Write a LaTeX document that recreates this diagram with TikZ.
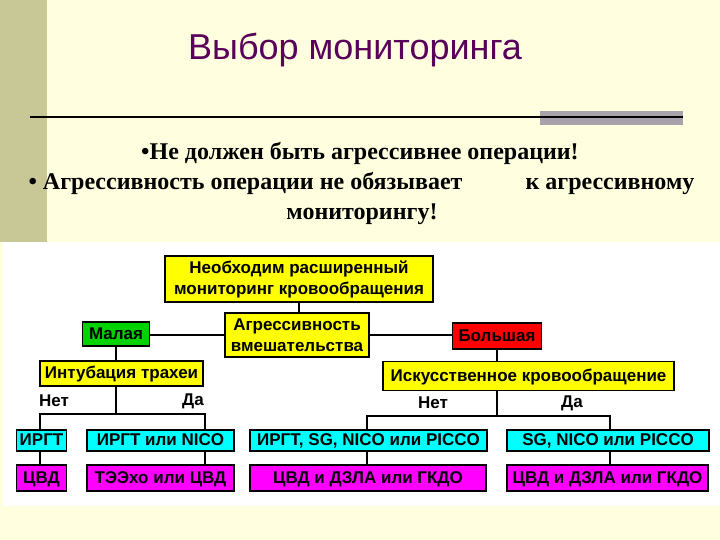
\documentclass[tikz,border=0pt]{standalone}
\usepackage{fontspec}
\setmainfont{Liberation Sans}
\newfontfamily\timesf{Liberation Serif}
\usepackage{tikz}
\usetikzlibrary{calc}
\usetikzlibrary{positioning}
\definecolor{cream}{RGB}{255,255,224}
\definecolor{olive}{RGB}{200,200,150}
\definecolor{barg}{RGB}{168,160,170}
\definecolor{ttl}{RGB}{90,0,90}
\definecolor{grn}{RGB}{0,210,0}
\definecolor{ylw}{RGB}{255,255,0}
\definecolor{rd}{RGB}{255,0,0}
\definecolor{cyn}{RGB}{0,255,255}
\definecolor{mgn}{RGB}{255,0,255}

\begin{document}
\begin{tikzpicture}[x=1pt, y=-1pt,
		yb/.style = {rectangle, draw=black, fill=ylw, line width=1.4pt, inner sep=0pt, font=\fontsize{17}{21}\selectfont\bfseries, align=center},
		one/.style = {text height=12pt, text depth=2pt},
		gb/.style = {yb, one, fill=grn},
		rb/.style = {yb, one, fill=rd},
		cb/.style = {yb, one, fill=cyn},
		mb/.style = {yb, one, fill=mgn},
		ln/.style = {line width=1.2pt},
		lbl/.style = {font=\fontsize{17}{20}\selectfont\bfseries},
		blt/.style = {font=\timesf\fontsize{24}{28}\selectfont\bfseries}
		]
		
		%Background
		\useasboundingbox (0,0) rectangle (720,540);
		\fill[cream] (0,0) rectangle (720,540);
		\fill[olive] (0,0) rectangle (47,242);
		\fill[white] (3,242) rectangle (720,506);
		\fill[barg] (540,111) rectangle (683,125);
		\draw[line width=2pt] (30,117) -- (683,117);
		
		%Title and text
		\node[text=ttl, font=\fontsize{36}{42}\selectfont] (title) at (355,50) {Выбор мониторинга};
		\node[blt, anchor=base] (b1) at (360,160) {•Не должен быть агрессивнее операции!};
		\node[blt, anchor=base west] (b2) at (25,190) {• Агрессивность операции не обязывает};
		\node[blt, anchor=base west] (b3) at (522,190) {к агрессивному};
		\node[blt, anchor=base] (b4) at (362,219) {мониторингу!};
		
		%Nodes
		\node[yb, minimum width=268, minimum height=46]	(need)	at	(299,279)	{Необходим расширенный\\мониторинг кровообращения};
		\node[yb, minimum width=144, minimum height=44]	(agr)	at	(297,335)	{Агрессивность\\вмешательства};
		\node[gb, minimum width=67, minimum height=24]	(small)	at	(116,334)	{Малая};
		\node[rb, minimum width=89, minimum height=26]	(big)	at	(497,336)	{Большая};
		\node[yb, one, minimum width=163, minimum height=25]	(intub)	at	(121.5,373.5)	{Интубация трахеи};
		\node[yb, one, minimum width=291, minimum height=29]	(ic)	at	(528.5,376)	{Искусственное кровообращение};
		
		\node[cb, minimum width=50, minimum height=21]	(c1)	at	(41.5,440.5)	{ИРГТ};
		\node[cb, minimum width=147, minimum height=21]	(c2)	at	(160.5,440.5)	{ИРГТ или NICO};
		\node[cb, minimum width=237, minimum height=21]	(c3)	at	(368.5,440.5)	{ИРГТ, SG, NICO или PICCO};
		\node[cb, minimum width=202, minimum height=21]	(c4)	at	(608,440.5)	{SG, NICO или PICCO};
		
		\node[mb, minimum width=50, minimum height=26]	(m1)	at	(41.5,478)	{ЦВД};
		\node[mb, minimum width=147, minimum height=26]	(m2)	at	(160.5,478)	{ТЭЭхо или ЦВД};
		\node[mb, minimum width=236, minimum height=26]	(m3)	at	(368,478)	{ЦВД и ДЗЛА или ГКДО};
		\node[mb, minimum width=201, minimum height=26]	(m4)	at	(607.5,478)	{ЦВД и ДЗЛА или ГКДО};
		
		\node[lbl]	(no1)	at	(54,401)	{Нет};
		\node[lbl]	(yes1)	at	(193,401)	{Да};
		\node[lbl]	(no2)	at	(433,403)	{Нет};
		\node[lbl]	(yes2)	at	(572,403)	{Да};
		
		\coordinate (jl1) at (40,414);
		\coordinate (jl2) at (205,414);
		\coordinate (jr1) at (367,416);
		\coordinate (jr2) at (610,416);
		
		%Lines
		\draw[ln]	(need.south)	--	(need.south |- agr.north);
		\draw[ln]	(agr.west)	--	(small.east |- agr.west);
		\draw[ln]	(agr.east)	--	(big.west |- agr.east);
		\draw[ln]	(small.south)	--	(small.south |- intub.north);
		\draw[ln]	(big.south)	--	(big.south |- ic.north);
		\draw[ln]	(intub.south -| small.south)	--	(jl1 -| small.south);
		\draw[ln]	(c1.north -| jl1)	|-	(jl2)	--	(c2.north -| jl2);
		\draw[ln]	(c1.south -| jl1)	--	(m1.north -| jl1);
		\draw[ln]	(c2.south -| jl2)	--	(m2.north -| jl2);
		\draw[ln]	(ic.south -| big.south)	--	(jr1 -| big.south);
		\draw[ln]	(c3.north -| jr1)	|-	(jr2)	--	(c4.north -| jr2);
		\draw[ln]	(c3.south -| jr1)	--	(m3.north -| jr1);
		\draw[ln]	(c4.south -| jr2)	--	(m4.north -| jr2);
	\end{tikzpicture}
\end{document}
